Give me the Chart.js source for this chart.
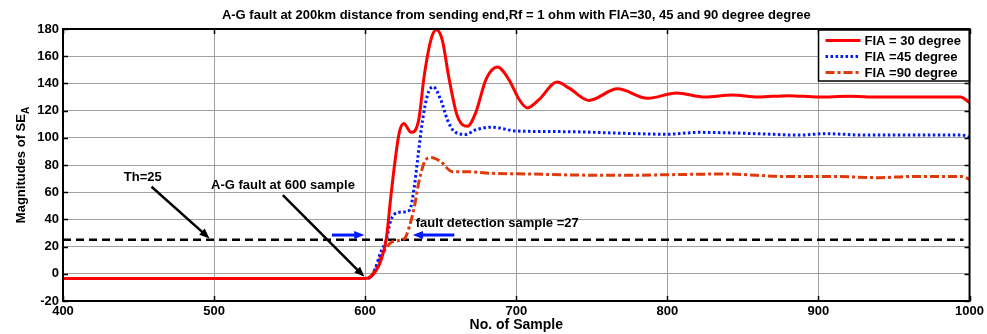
<!DOCTYPE html>
<html lang="en">
<head>
<meta charset="UTF-8" />
<title>A-G fault - SE magnitudes</title>
<style>
  html, body { margin: 0; padding: 0; background: #fff; }
  canvas { display: block; }
</style>
</head>
<body>
<canvas id="faultChart" width="987" height="334"></canvas>

<script src="https://cdn.jsdelivr.net/npm/chart.js"></script>
<script>
// values (sample number -> magnitude of SE_A)
const samples30 = [400, 600, 604, 607, 610.5, 614, 617, 620, 622.6, 625.5, 630.5, 635.4, 639, 643.5, 647, 651, 655.6, 661, 667.7, 673, 680, 687.5, 695, 702, 707.3, 715, 727, 735, 748, 767, 787, 806, 825, 843, 860, 880, 900, 920, 940, 960, 994, 1000];
const fia30 = [-3.5, -3.5, -2, 2, 10, 26, 57, 85, 104, 110.5, 104, 113, 145, 172, 179.5, 172, 143, 116, 108.5, 118, 143, 152, 143, 128, 122, 128, 141, 136.5, 127.5, 136, 129, 133, 130, 131.5, 130, 131, 130, 130.5, 130, 130, 130, 126];

const samples45 = [400, 600, 604, 607, 610, 614, 617, 621.5, 626, 629.5, 632.5, 634.7, 638, 641.3, 645, 650, 654.5, 659, 666.5, 673, 684, 700, 735, 768, 800, 821, 860, 887, 905, 930, 960, 995, 1000];
const fia45 = [-3.5, -3.5, -2, 5, 15, 25, 39.5, 45, 45.5, 47, 64, 84, 113, 131.6, 137.5, 128, 113, 104.6, 102.5, 105.8, 107.8, 105, 104.5, 103.4, 102.6, 104, 103, 102, 103, 102, 102, 102, 100.4];

const samples90 = [400, 600, 605, 611.6, 618, 626, 629.2, 632.5, 635.8, 640, 643.5, 650, 657.8, 669, 682, 708, 735, 772, 808, 838, 880, 910, 940, 960, 995, 1000];
const fia90 = [-3.5, -3.5, 0, 15, 23.6, 26, 34.6, 49, 69, 83.7, 85.5, 82.5, 75, 75, 74, 73.4, 72.7, 72.4, 73, 73.4, 71.5, 71.5, 70.7, 71.5, 71.5, 69.5];

const thSamples = [400, 996];
const thValues = [25, 25];

const xTicks = [400, 500, 600, 700, 800, 900, 1000];
const yTicks = [-20, 0, 20, 40, 60, 80, 100, 120, 140, 160, 180];

const FONT = '"Liberation Sans", Arial, Helvetica, sans-serif';
const BLUE = '#0018ff';

// annotation texts and arrows, in data units
const notes = [
  { text: 'Th=25', x: 452.8, y: 70.5, align: 'center' },
  { text: 'A-G fault at 600 sample', x: 545.6, y: 65.3, align: 'center' },
  { text: 'fault detection sample =27', x: 633.5, y: 37.1, align: 'left' }
];
const arrows = [
  { from: [458.6, 64], to: [497, 26], color: '#000' },
  { from: [545.5, 57.8], to: [599.5, -2.2], color: '#000' },
  { from: [578, 28.5], to: [599.5, 28.5], color: BLUE },
  { from: [659, 28.5], to: [631.5, 28.5], color: BLUE }
];

function toPoints(xs, ys) {
  return xs.map((x, i) => ({ x: x, y: ys[i] }));
}

function drawArrow(ctx, x1, y1, x2, y2, color, width, head) {
  const ang = Math.atan2(y2 - y1, x2 - x1);
  ctx.strokeStyle = color;
  ctx.fillStyle = color;
  ctx.lineWidth = width;
  ctx.setLineDash([]);
  ctx.beginPath();
  ctx.moveTo(x1, y1);
  ctx.lineTo(x2 - Math.cos(ang) * head * 0.8, y2 - Math.sin(ang) * head * 0.8);
  ctx.stroke();
  ctx.beginPath();
  ctx.moveTo(x2, y2);
  ctx.lineTo(x2 - head * Math.cos(ang - 0.38), y2 - head * Math.sin(ang - 0.38));
  ctx.lineTo(x2 - head * Math.cos(ang + 0.38), y2 - head * Math.sin(ang + 0.38));
  ctx.closePath();
  ctx.fill();
}

// frame, inward ticks, notes, legend and y title (MATLAB look)
const decor = {
  id: 'decor',
  afterDatasetsDraw(chart) {
    const ctx = chart.ctx;
    const a = chart.chartArea;
    const xs = chart.scales.x, ys = chart.scales.y;
    ctx.save();

    // inward ticks
    ctx.strokeStyle = '#000';
    ctx.lineWidth = 1.5;
    ctx.beginPath();
    xTicks.forEach(v => {
      const px = Math.round(xs.getPixelForValue(v)) + 0.5;
      ctx.moveTo(px, a.bottom); ctx.lineTo(px, a.bottom - 5);
      ctx.moveTo(px, a.top); ctx.lineTo(px, a.top + 5);
    });
    yTicks.forEach(v => {
      const py = Math.round(ys.getPixelForValue(v)) + 0.5;
      ctx.moveTo(a.left, py); ctx.lineTo(a.left + 5, py);
      ctx.moveTo(a.right, py); ctx.lineTo(a.right - 5, py);
    });
    ctx.stroke();

    // arrows and notes
    arrows.forEach(ar => {
      drawArrow(ctx,
        xs.getPixelForValue(ar.from[0]), ys.getPixelForValue(ar.from[1]),
        xs.getPixelForValue(ar.to[0]), ys.getPixelForValue(ar.to[1]),
        ar.color, ar.color === BLUE ? 3 : 2.5, 11);
    });
    ctx.fillStyle = '#000';
    ctx.font = 'bold 13px ' + FONT;
    ctx.textBaseline = 'middle';
    notes.forEach(n => {
      ctx.textAlign = n.align;
      ctx.fillText(n.text, xs.getPixelForValue(n.x), ys.getPixelForValue(n.y));
    });

    // legend box in the top right corner
    const items = chart.data.datasets.slice(0, 3);
    const bx = a.right - 151, by = a.top + 1, bw = 151, bh = 51;
    ctx.fillStyle = '#fff';
    ctx.fillRect(bx, by, bw, bh);
    ctx.strokeStyle = '#000';
    ctx.lineWidth = 1.5;
    ctx.setLineDash([]);
    ctx.strokeRect(bx, by, bw, bh);
    items.forEach((ds, i) => {
      const ry = by + 10.5 + i * 16;
      ctx.strokeStyle = ds.borderColor;
      ctx.lineWidth = ds.borderWidth;
      ctx.setLineDash(ds.borderDash || []);
      ctx.beginPath();
      ctx.moveTo(bx + 7, ry);
      ctx.lineTo(bx + 42, ry);
      ctx.stroke();
      ctx.setLineDash([]);
      ctx.fillStyle = '#000';
      ctx.textAlign = 'left';
      ctx.fillText(ds.label, bx + 46, ry + 0.5);
    });

    // axes frame
    ctx.strokeStyle = '#000';
    ctx.lineWidth = 2;
    ctx.strokeRect(a.left, a.top, a.right - a.left, a.bottom - a.top);
    ctx.restore();
  },
  afterDraw(chart) {
    const ctx = chart.ctx;
    const a = chart.chartArea;
    ctx.save();
    ctx.translate(21.5, (a.top + a.bottom) / 2);
    ctx.rotate(-Math.PI / 2);
    ctx.fillStyle = '#000';
    ctx.textBaseline = 'middle';
    ctx.textAlign = 'left';
    ctx.font = 'bold 13px ' + FONT;
    const main = 'Magnitudes of SE';
    const w1 = ctx.measureText(main).width;
    ctx.font = 'bold 10px ' + FONT;
    const w2 = ctx.measureText('A').width;
    const start = -(w1 + w2) / 2;
    ctx.font = 'bold 13px ' + FONT;
    ctx.fillText(main, start, 0);
    ctx.font = 'bold 10px ' + FONT;
    ctx.fillText('A', start + w1, 5);
    ctx.restore();
  }
};

const ctx = document.getElementById('faultChart').getContext('2d');

const chart = new Chart(ctx, {
  type: 'line',
  data: {
    datasets: [
      { label: 'FIA = 30 degree', data: toPoints(samples30, fia30), borderColor: '#ff0000', borderWidth: 3, cubicInterpolationMode: 'monotone' },
      { label: 'FIA =45 degree', data: toPoints(samples45, fia45), borderColor: BLUE, borderWidth: 3, borderDash: [2.5, 2.5], cubicInterpolationMode: 'monotone' },
      { label: 'FIA =90 degree', data: toPoints(samples90, fia90), borderColor: '#e03a0c', borderWidth: 3, borderDash: [9, 3, 3, 3], cubicInterpolationMode: 'monotone' },
      { label: 'Th', data: toPoints(thSamples, thValues), borderColor: '#000', borderWidth: 2.5, borderDash: [8, 5] }
    ]
  },
  options: {
    responsive: false,
    animation: false,
    devicePixelRatio: 1,
    elements: { point: { radius: 0 } },
    layout: { padding: { left: 0, right: 15, top: 0, bottom: 0 } },
    plugins: {
      legend: { display: false },
      tooltip: { enabled: false },
      title: {
        display: true,
        fullSize: false,
        text: 'A-G fault at 200km distance from sending end,Rf = 1 ohm with FIA=30, 45 and 90 degree degree',
        color: '#000',
        font: { family: FONT, size: 13, weight: 'bold' },
        padding: { top: 8, bottom: 5.4 }
      }
    },
    scales: {
      x: {
        type: 'linear',
        min: 400,
        max: 1000,
        afterBuildTicks: s => { s.ticks = xTicks.map(v => ({ value: v })); },
        afterFit: s => { s.height = 33; },
        grid: { color: '#a0a0a0', lineWidth: 1, drawTicks: false },
        border: { display: false },
        ticks: {
          color: '#000', padding: 3, maxRotation: 0,
          font: { family: FONT, size: 13, weight: 'bold' },
          callback: v => String(v)
        },
        title: {
          display: true,
          text: 'No. of Sample',
          color: '#000',
          font: { family: FONT, size: 14, weight: 'bold' },
          padding: { top: 0, bottom: 0 }
        }
      },
      y: {
        min: -20,
        max: 180,
        afterBuildTicks: s => { s.ticks = yTicks.map(v => ({ value: v })); },
        afterFit: s => { s.width = 63; },
        grid: { color: '#a0a0a0', lineWidth: 1, drawTicks: false },
        border: { display: false },
        ticks: { color: '#000', padding: 4, font: { family: FONT, size: 13, weight: 'bold' } }
      }
    }
  },
  plugins: [decor]
});
</script>
</body>
</html>
